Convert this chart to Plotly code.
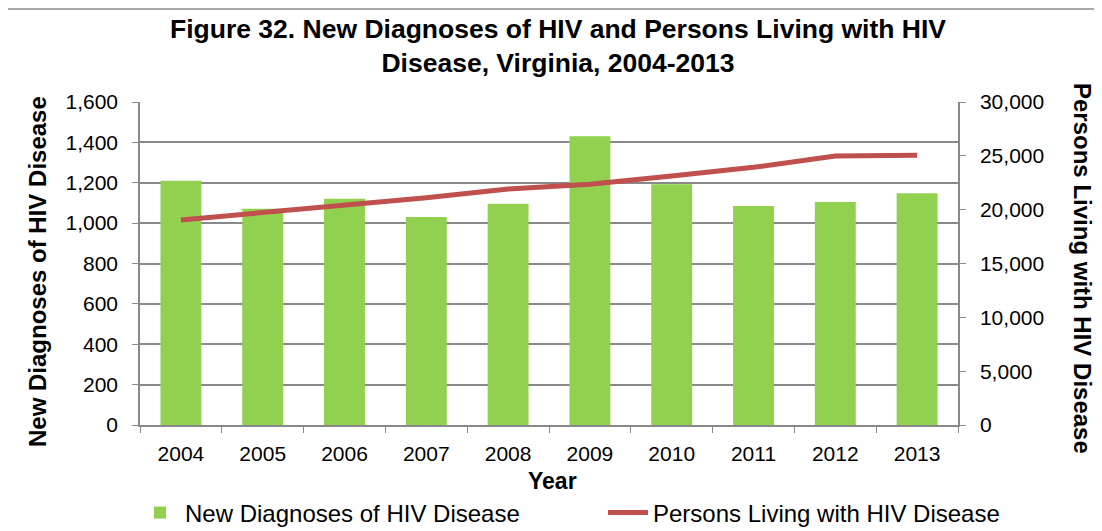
import plotly.graph_objects as go

years = ["2004", "2005", "2006", "2007", "2008", "2009", "2010", "2011", "2012", "2013"]
new_diagnoses = [1210, 1071, 1121, 1030, 1096, 1430, 1192, 1085, 1105, 1148]
persons_living = [19040, 19720, 20400, 21110, 21920, 22350, 23130, 23930, 24980, 25060]

left_ticks = [0, 200, 400, 600, 800, 1000, 1200, 1400, 1600]
right_ticks = [0, 5000, 10000, 15000, 20000, 25000, 30000]

FONT = "Liberation Sans, Arial, sans-serif"
AXIS_GRAY = "#898989"

# page offset (browser body margin)
OFF = 8
W, H = 1102 - OFF, 531 - OFF
PL, PR, PT, PB = 140 - OFF, 958 - OFF, 102 - OFF, 425 - OFF
PW, PH = PR - PL, PB - PT


def px(xp):
    return (xp - OFF - PL) / PW


def py(yp):
    return (PB - (yp - OFF)) / PH


fig = go.Figure()
fig.add_trace(go.Bar(
    x=years, y=new_diagnoses, name="New Diagnoses of HIV Disease",
    marker=dict(color="#92D050", line=dict(width=0)), width=0.5, yaxis="y",
    legend="legend",
))
fig.add_trace(go.Scatter(
    x=years, y=persons_living, name="Persons Living with HIV Disease",
    mode="lines", line=dict(color="#C0504D", width=5), yaxis="y2",
    legend="legend2",
))

legend_common = dict(
    orientation="h", yanchor="middle", font=dict(size=24), itemwidth=40,
    bgcolor="rgba(0,0,0,0)",
)

fig.update_layout(
    width=W, height=H,
    margin=dict(l=PL, r=W - PR, t=PT, b=H - PB, autoexpand=False),
    paper_bgcolor="white", plot_bgcolor="white",
    font=dict(family=FONT, size=21, color="black"),
    xaxis=dict(
        type="category", showgrid=False, showline=True, linecolor=AXIS_GRAY, linewidth=1.5,
        ticks="outside", tickson="boundaries", ticklen=6, tickcolor=AXIS_GRAY,
        tickfont=dict(size=21), ticklabelstandoff=9, automargin=False,
    ),
    yaxis=dict(
        range=[0, 1600], tickvals=left_ticks, tickformat=",d",
        showgrid=True, gridcolor=AXIS_GRAY, gridwidth=1.5,
        showline=True, linecolor=AXIS_GRAY, linewidth=1.5,
        ticks="outside", ticklen=6, tickcolor=AXIS_GRAY, zeroline=False,
        tickfont=dict(size=21), ticklabelstandoff=10, automargin=False,
    ),
    yaxis2=dict(
        range=[0, 30000], tickvals=right_ticks, tickformat=",d",
        overlaying="y", side="right", showgrid=False,
        showline=True, linecolor=AXIS_GRAY, linewidth=1.5,
        ticks="outside", ticklen=6, tickcolor=AXIS_GRAY, zeroline=False,
        tickfont=dict(size=21), ticklabelstandoff=10, automargin=False,
    ),
    showlegend=True,
    legend=dict(x=px(135), xanchor="left", y=py(513), **legend_common),
    legend2=dict(x=px(603), xanchor="left", y=py(513), **legend_common),
)

fig.add_annotation(
    text="<b>Figure 32. New Diagnoses of HIV and Persons Living with HIV<br>Disease, Virginia, 2004-2013</b>",
    xref="paper", yref="paper", x=px(558), y=py(46), showarrow=False,
    font=dict(size=26.5), xanchor="center", yanchor="middle", align="center",
)
fig.add_annotation(text="<b>Year</b>", xref="paper", yref="paper",
                   x=px(552), y=py(481), showarrow=False,
                   font=dict(size=23), xanchor="center", yanchor="middle")
fig.add_annotation(text="<b>New Diagnoses of HIV Disease</b>", xref="paper", yref="paper",
                   x=px(37), y=py(272), showarrow=False, textangle=-90,
                   font=dict(size=24), xanchor="center", yanchor="middle")
fig.add_annotation(text="<b>Persons Living with HIV Disease</b>", xref="paper", yref="paper",
                   x=px(1083), y=py(268), showarrow=False, textangle=90,
                   font=dict(size=24), xanchor="center", yanchor="middle")

fig.add_shape(type="rect", xref="paper", yref="paper",
              x0=px(6), x1=1.3, y0=-0.5, y1=py(9),
              line=dict(color="#8c8c8c", width=1.5), fillcolor="rgba(0,0,0,0)", layer="below")

fig.write_html("out.html")
